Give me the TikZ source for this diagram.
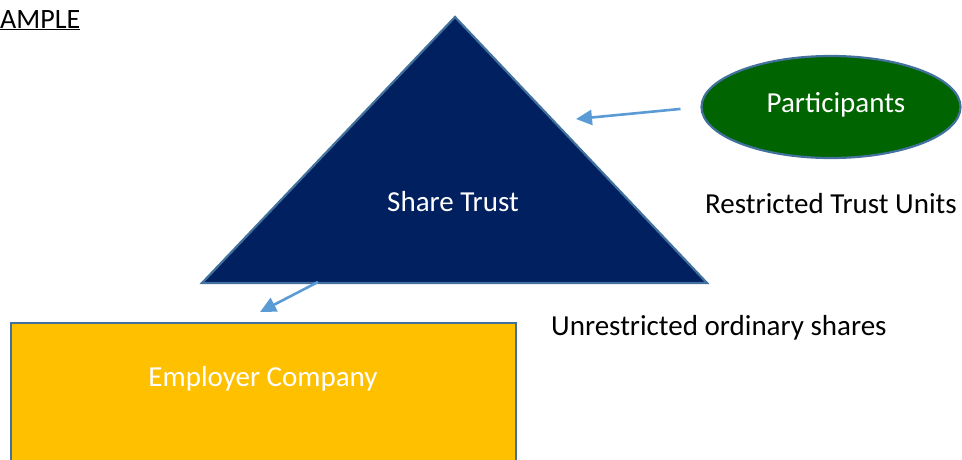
\documentclass[tikz,border=0pt]{standalone}
\usepackage{fontspec}
\setmainfont{Carlito}
\usetikzlibrary{arrows.meta,shapes.geometric}
\usepackage{xcolor}
\definecolor{trustblue}{HTML}{002060}
\definecolor{partgreen}{HTML}{006400}
\definecolor{empgold}{HTML}{FFC000}
\definecolor{edgeblue}{HTML}{41719C}
\definecolor{arrowblue}{HTML}{5B9BD5}

\begin{document}
\begin{tikzpicture}[x=1pt, y=-1pt,
        every node/.style={font=\fontsize{29}{35}\selectfont, inner sep=0pt},
        shapeedge/.style={draw=edgeblue, line width=2.2pt},
        flow/.style={arrowblue, line width=2.6pt, -{Triangle[length=16pt, width=15pt]}},
        whitetext/.style={text=white}]
        \clip (0,0) rectangle (962,459);

        % Define points
        \coordinate (apex) at (455,17);
        \coordinate (baseL) at (202,283);
        \coordinate (baseR) at (707,283);
        \coordinate (baseOut) at (318,282); % arrow leaves the trust base here
        \coordinate (toTrust) at (576,119);
        \coordinate (toEmp) at (260,312);

        % Heading, cut at the left margin
        \node[anchor=base west, font=\fontsize{28}{34}\selectfont] (head) at (0,28) {\underline{AMPLE}};

        % Share trust triangle
        \filldraw[shapeedge, fill=trustblue] (apex) -- (baseR) -- (baseL) -- cycle;
        \node[whitetext] (trust) at (453,202) {Share Trust};

        % Participants ellipse
        \node[ellipse, shapeedge, fill=partgreen, minimum width=259pt, minimum height=102pt] (part) at (831,107) {};
        \node[whitetext] (partlbl) at (836,105) {Participants};

        % Employer company box (runs off the bottom)
        \filldraw[shapeedge, fill=empgold] (11,323) rectangle (516,480);
        \node[whitetext] (emp) at (263,379) {Employer Company};

        % Plain labels
        \node[anchor=west] (units) at (705,204) {Restricted Trust Units};
        \node[anchor=west] (shares) at (551,328) {Unrestricted ordinary shares};

        % Arrows
        \draw[flow, shorten <=20pt] (part.west) -- (toTrust);
        \draw[flow] (baseOut) -- (toEmp);
    \end{tikzpicture}
\end{document}
